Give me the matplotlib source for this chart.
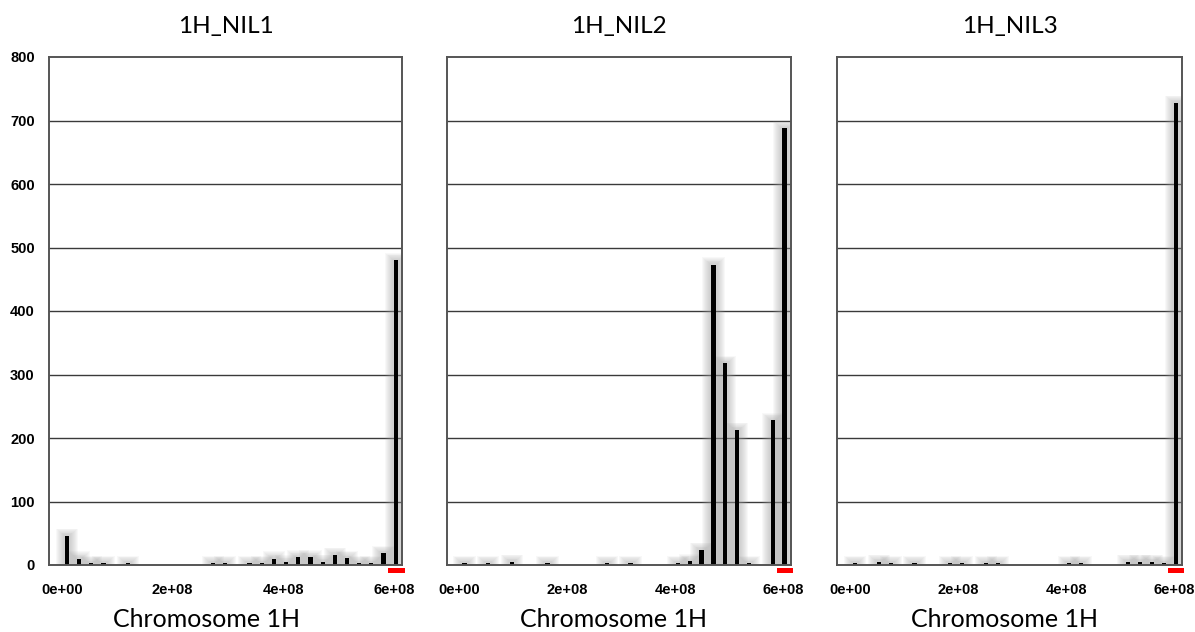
import matplotlib
matplotlib.use("Agg")
import matplotlib.pyplot as plt
from matplotlib.patches import Rectangle
import matplotlib.transforms as mtransforms

# ---------------- data ----------------
titles = ["1H_NIL1", "1H_NIL2", "1H_NIL3"]
xlabel = "Chromosome 1H"

pos1 = [0, 22e6, 44e6, 66e6, 110e6, 264e6, 286e6, 330e6, 352e6, 374e6, 396e6,
        418e6, 440e6, 462e6, 484e6, 506e6, 528e6, 550e6, 572e6, 594e6]
val1 = [46, 10, 3, 3, 3, 3, 3, 3, 3, 10, 4, 12, 12, 5, 16, 11, 3, 3, 19, 480]

pos2 = [0, 44e6, 88e6, 154e6, 264e6, 308e6, 396e6, 418e6, 440e6, 462e6, 484e6,
        506e6, 528e6, 572e6, 594e6]
val2 = [3, 3, 5, 3, 3, 3, 3, 6, 24, 473, 318, 213, 3, 228, 688]

pos3 = [0, 44e6, 66e6, 110e6, 176e6, 198e6, 242e6, 264e6, 396e6, 418e6, 506e6,
        528e6, 550e6, 572e6, 594e6]
val3 = [3, 5, 3, 3, 3, 3, 3, 3, 3, 3, 5, 5, 5, 3, 728]

region = (580e6, 610e6)  # red marked region under the axis

xticks = [0, 2e8, 4e8, 6e8]
xticklabels = ["0e+00", "2e+08", "4e+08", "6e+08"]
yticks = [0, 100, 200, 300, 400, 500, 600, 700, 800]

positions = [pos1, pos2, pos3]
values = [val1, val2, val3]

# ---------------- figure ----------------
W, H = 1195, 632
fig = plt.figure(figsize=(W / 100, H / 100), dpi=100)

boxes = [(48.7, 402.3), (446.7, 791.0), (837.3, 1182.3)]
xlabel_x = [0.447, 0.485, 0.485]
top, bottom = 57, 565
xlim = (-3.3e7, 6.06e8)
ylim = (0, 800)

title_font = dict(family=["Lato", "DejaVu Sans"], size=17.5)
tick_font = dict(family=["Liberation Sans", "DejaVu Sans"], size=10.5, weight="bold")

for i, ((l, r), pos, val) in enumerate(zip(boxes, positions, values)):
    ax = fig.add_axes([l / W, 1 - bottom / H, (r - l) / W, (bottom - top) / H])
    ax.set_xlim(*xlim)
    ax.set_ylim(*ylim)
    axw = r - l
    axh = bottom - top
    px_x = (xlim[1] - xlim[0]) / axw
    px_y = (ylim[1] - ylim[0]) / axh

    # grid
    for y in yticks[1:-1]:
        ax.axhline(y, color="#3a3a3a", lw=1.0, zorder=1)

    bw = 4.2 * px_x
    # soft glow around bars
    for ext in [9, 8, 7, 6, 5, 4, 3, 2]:
        ax.bar(pos, [v + ext * 0.8 * px_y for v in val], width=bw + 2 * ext * px_x,
               color="#a0a0a0", alpha=0.07, linewidth=0, zorder=2)
    ax.bar(pos, val, width=bw, color="black", linewidth=0, zorder=3)

    for s in ax.spines.values():
        s.set_color("#555555")
        s.set_linewidth(1.4)
        s.set_zorder(4)

    # red marker under axis
    trans = mtransforms.blended_transform_factory(ax.transData, ax.transAxes)
    ax.add_patch(Rectangle((region[0], -8.0 / axh), region[1] - region[0], 5.5 / axh,
                           transform=trans, color="#ff0000", clip_on=False, zorder=5,
                           linewidth=0))

    ax.set_xticks(xticks)
    ax.set_xticklabels(xticklabels, **tick_font)
    ax.tick_params(axis="x", length=0, pad=13)
    shift = mtransforms.ScaledTranslation(-5 / 100, 0, fig.dpi_scale_trans)
    for lab in ax.get_xticklabels():
        lab.set_transform(lab.get_transform() + shift)
    if i == 0:
        ax.set_yticks(yticks)
        ax.set_yticklabels([str(t) for t in yticks], **tick_font)
        ax.tick_params(axis="y", length=0, pad=10)
    else:
        ax.set_yticks([])
    ax.set_title(titles[i], pad=17, **title_font)
    ax.set_xlabel(xlabel, family=["Lato", "DejaVu Sans"], size=18)
    ax.xaxis.set_label_coords(xlabel_x[i], -0.085)

fig.savefig("out.png", dpi=100)
